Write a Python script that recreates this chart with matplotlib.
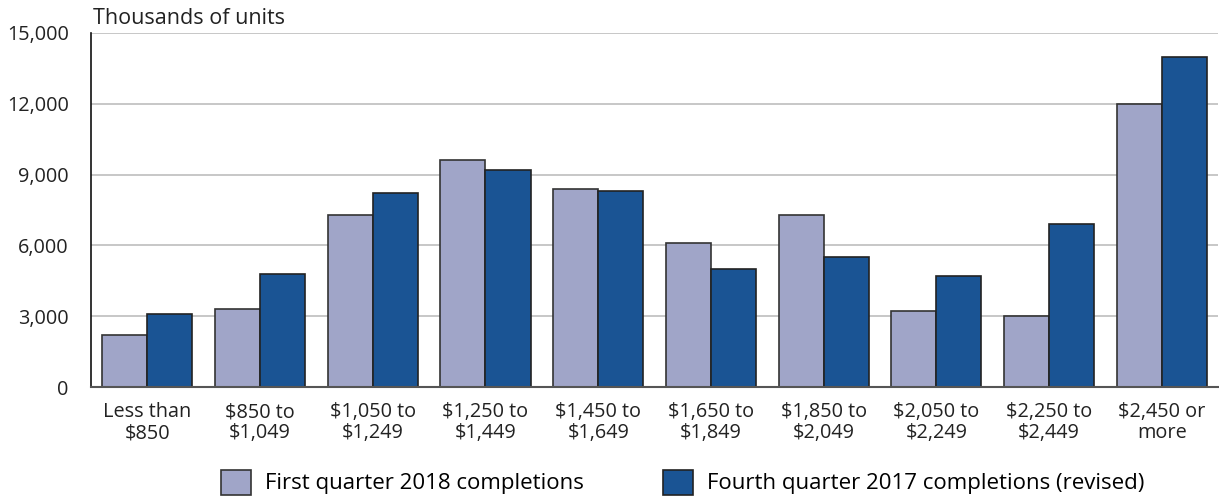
import matplotlib.pyplot as plt
import numpy as np

plt.rcParams['font.family'] = ['Open Sans', 'DejaVu Sans']

categories = ['Less than\n$850', '$850 to\n$1,049', '$1,050 to\n$1,249', '$1,250 to\n$1,449',
              '$1,450 to\n$1,649', '$1,650 to\n$1,849', '$1,850 to\n$2,049', '$2,050 to\n$2,249',
              '$2,250 to\n$2,449', '$2,450 or\nmore']
first_q2018 = [2200, 3300, 7300, 9600, 8400, 6100, 7300, 3200, 3000, 12000]
fourth_q2017 = [3100, 4800, 8200, 9200, 8300, 5000, 5500, 4700, 6900, 14000]
y_ticks = [0, 3000, 6000, 9000, 12000, 15000]

light = '#A0A5C8'
dark = '#1A5494'

fig = plt.figure(figsize=(12.19, 4.99), dpi=100)
ax = fig.add_axes([0.0747, 0.2244, 0.9245, 0.7095])

x = np.arange(len(categories))
w = 0.4
ax.bar(x - w / 2, first_q2018, w, color=light, edgecolor='#333333', linewidth=1.2,
       label='First quarter 2018 completions', zorder=3)
ax.bar(x + w / 2, fourth_q2017, w, color=dark, edgecolor='#222222', linewidth=1.2,
       label='Fourth quarter 2017 completions (revised)', zorder=3)

ax.set_xlim(-0.5, len(categories) - 0.5)
ax.set_ylim(0, 15000)
ax.set_yticks(y_ticks)
ax.set_yticklabels([f'{v:,}' for v in y_ticks], fontsize=14.3, color='#222222')
ax.set_xticks(x)
ax.set_xticklabels(categories, fontsize=14.3, color='#222222', linespacing=1.05)
ax.tick_params(axis='both', length=0)
ax.tick_params(axis='y', pad=16)
ax.tick_params(axis='x', pad=11)

ax.grid(axis='y', color='#BDBDBD', linewidth=1.2, zorder=0)
for s in ['top', 'right']:
    ax.spines[s].set_visible(False)
ax.spines['left'].set_color('#111111')
ax.spines['left'].set_linewidth(1.2)
ax.spines['bottom'].set_color('#555555')
ax.spines['bottom'].set_linewidth(1.5)
ax.spines['bottom'].set_zorder(4)

fig.text(93 / 1219, 1 - 24 / 499, 'Thousands of units', fontsize=15.5, color='#222222',
         ha='left', va='baseline')

fig.legend(loc='center', bbox_to_anchor=(0.56, 0.034), ncol=2, frameon=False,
           fontsize=16, handlelength=1.35, handleheight=1.35, columnspacing=3.6,
           handletextpad=0.6, borderpad=0)

plt.savefig('out.png', dpi=100)
